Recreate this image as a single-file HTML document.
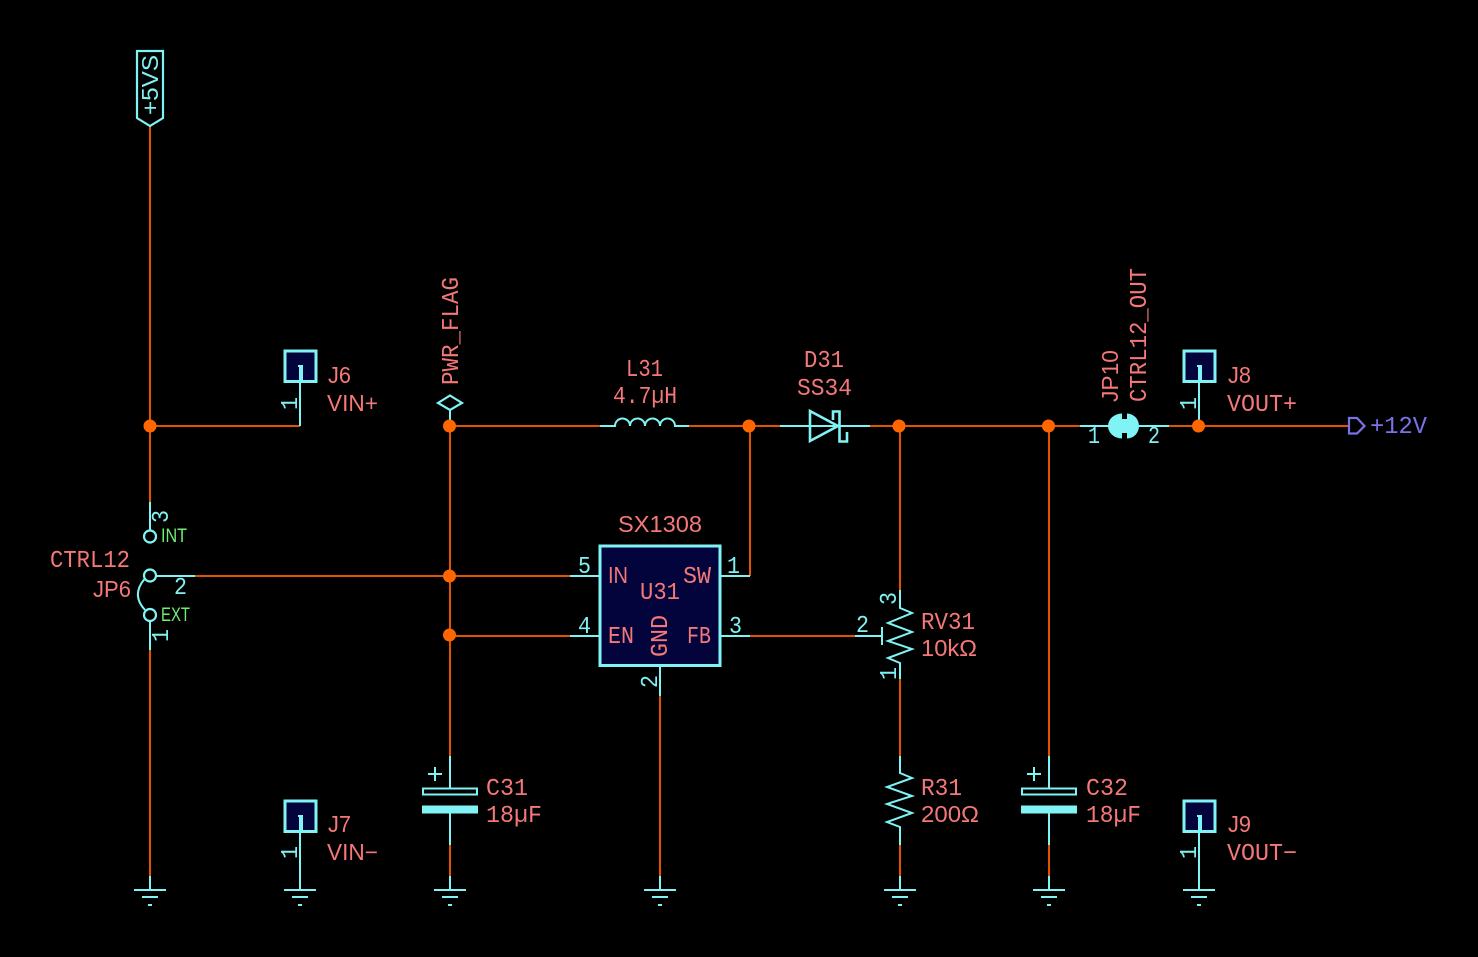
<!DOCTYPE html>
<html><head><meta charset="utf-8"><style>
html,body{margin:0;padding:0;background:#000;width:1478px;height:957px;overflow:hidden}
svg{display:block}
text{font-family:"Liberation Sans",sans-serif;font-size:23px}
text.m{font-family:"Liberation Mono",monospace;font-size:24px}
.r{fill:#f57878}.c{fill:#80f0f0}.g{fill:#70f070;font-size:19px}.b{fill:#7a72e8}
.w{stroke:#e25300;stroke-width:2;fill:none}
.p{stroke:#80f4f4;stroke-width:2;fill:none}
.t{stroke:#80f4f4;stroke-width:2.200;fill:none}
.d{stroke:#80f4f4;stroke-width:2.600;fill:none}
.j{fill:#ff6600}
.box{fill:#04043c;stroke:#80f4f4;stroke-width:3}
</style></head><body>
<svg width="1478" height="957" viewBox="0 0 1478 957" xmlns="http://www.w3.org/2000/svg">
<rect width="1478" height="957" fill="#000"/>

<!-- wires -->
<path class="w" d="M150 126V502M150 426H300M150 650V876M195 576H570M450 636H570M450 426V756M450 426H600M689 426H780M870 426H1080M1169 426H1350M750 426V576M750 636H855M660 696V876M900 426V590M900 679V756M900 845V876M1049 426V756M1049 845V876M450 845V876"/>

<!-- +5VS -->
<path class="t" d="M137 51H163V118L150 126L137 118Z"/>
<text class="c" transform="translate(158 115) rotate(-90)" textLength="60" lengthAdjust="spacingAndGlyphs">+5VS</text>

<!-- jumper JP6 -->
<path class="p" d="M150 502V530M156 576H195M150 621V650"/>
<circle class="t" cx="150" cy="536.500" r="6"/>
<circle class="t" cx="150" cy="575.500" r="6"/>
<circle class="t" cx="150" cy="615" r="6"/>
<path class="p" d="M144.500 579Q131 595 145 610"/>
<text class="c m" transform="translate(168 523) rotate(-90)" textLength="13" lengthAdjust="spacingAndGlyphs">3</text>
<text class="c m" transform="translate(168 642) rotate(-90)" textLength="13" lengthAdjust="spacingAndGlyphs">1</text>
<text class="c m" x="174" y="594" textLength="13" lengthAdjust="spacingAndGlyphs">2</text>
<text class="g" x="161" y="542" textLength="26" lengthAdjust="spacingAndGlyphs">INT</text>
<text class="g" x="161" y="621" textLength="29" lengthAdjust="spacingAndGlyphs">EXT</text>
<text class="r m" x="50" y="567" textLength="80" lengthAdjust="spacingAndGlyphs">CTRL12</text>
<text class="r" x="93" y="597" textLength="38" lengthAdjust="spacingAndGlyphs">JP6</text>

<!-- J6 -->
<rect class="box" x="285" y="351" width="31" height="30.500"/>
<path class="p" d="M300 426V366H298M300 366H302V381"/>
<text class="c m" transform="translate(297 410) rotate(-90)" textLength="13" lengthAdjust="spacingAndGlyphs">1</text>
<text class="r" x="328" y="383" textLength="23" lengthAdjust="spacingAndGlyphs">J6</text>
<text class="r" x="327" y="411" textLength="51" lengthAdjust="spacingAndGlyphs">VIN+</text>

<!-- J7 -->
<rect class="box" x="285" y="801" width="31" height="30.500"/>
<path class="p" d="M300 890V816H298M300 816H302V831"/>
<text class="c m" transform="translate(297 859) rotate(-90)" textLength="13" lengthAdjust="spacingAndGlyphs">1</text>
<text class="r" x="328" y="832" textLength="23" lengthAdjust="spacingAndGlyphs">J7</text>
<text class="r" x="327" y="860" textLength="51" lengthAdjust="spacingAndGlyphs">VIN−</text>

<!-- J8 -->
<rect class="box" x="1184" y="351" width="31" height="30.500"/>
<path class="p" d="M1199 426V366H1197M1199 366H1201V381"/>
<text class="c m" transform="translate(1196 410) rotate(-90)" textLength="13" lengthAdjust="spacingAndGlyphs">1</text>
<text class="r" x="1228" y="383" textLength="23" lengthAdjust="spacingAndGlyphs">J8</text>
<text class="r m" x="1227" y="411" textLength="70" lengthAdjust="spacingAndGlyphs">VOUT+</text>

<!-- J9 -->
<rect class="box" x="1184" y="801" width="31" height="30.500"/>
<path class="p" d="M1199 890V816H1197M1199 816H1201V831"/>
<text class="c m" transform="translate(1196 859) rotate(-90)" textLength="13" lengthAdjust="spacingAndGlyphs">1</text>
<text class="r" x="1228" y="832" textLength="23" lengthAdjust="spacingAndGlyphs">J9</text>
<text class="r m" x="1227" y="860" textLength="70" lengthAdjust="spacingAndGlyphs">VOUT−</text>

<!-- PWR_FLAG -->
<path class="t" d="M450 395.500L462 403L450 410L438 403Z"/>
<path class="p" d="M450 410V426"/>
<text class="r m" transform="translate(458 385) rotate(-90)" textLength="108" lengthAdjust="spacingAndGlyphs">PWR_FLAG</text>

<!-- L31 -->
<path class="p" d="M600 426H615A7.500 7.500 0 0 1 630 426A7.500 7.500 0 0 1 645 426A7.500 7.500 0 0 1 660 426A7.500 7.500 0 0 1 675 426H689"/>
<text class="r m" x="626" y="376" textLength="37" lengthAdjust="spacingAndGlyphs">L31</text>
<text class="r m" x="613" y="403" textLength="64" lengthAdjust="spacingAndGlyphs">4.7µH</text>

<!-- D31 -->
<path class="p" d="M780 426H870"/>
<path class="d" d="M810 411V441L838 426ZM833 420V411.500H839.500V441.500H847V432"/>
<text class="r m" x="804" y="367" textLength="40" lengthAdjust="spacingAndGlyphs">D31</text>
<text class="r m" x="797" y="395" textLength="55" lengthAdjust="spacingAndGlyphs">SS34</text>

<!-- JP10 -->
<path class="p" d="M1080 426H1110M1138 426H1169"/>
<path fill="#80f4f4" d="M1122 413.500A14 12.500 0 0 0 1122 438.500V433H1127V438.500A12 12.500 0 0 0 1127 413.500V419H1122Z"/>
<text class="c m" x="1088" y="443" textLength="12" lengthAdjust="spacingAndGlyphs">1</text>
<text class="c m" x="1148" y="443" textLength="12" lengthAdjust="spacingAndGlyphs">2</text>
<text class="r" transform="translate(1118 402) rotate(-90)" textLength="52" lengthAdjust="spacingAndGlyphs">JP10</text>
<text class="r m" transform="translate(1146 402) rotate(-90)" textLength="134" lengthAdjust="spacingAndGlyphs">CTRL12_OUT</text>

<!-- +12V -->
<path d="M1349 418H1357L1364.500 426L1357 433.500H1349Z" fill="none" stroke="#7a72e8" stroke-width="2.200"/>
<text class="b m" x="1370" y="433" textLength="57" lengthAdjust="spacingAndGlyphs">+12V</text>

<!-- U31 -->
<rect class="box" x="600" y="546" width="120" height="119.500"/>
<path class="p" d="M570 576H599M570 636H599M721 576H750M721 636H750M660 666V696"/>
<text class="r" x="618" y="532" textLength="84" lengthAdjust="spacingAndGlyphs">SX1308</text>
<text class="r" x="608" y="583" textLength="20" lengthAdjust="spacingAndGlyphs">IN</text>
<text class="r m" x="683" y="583" textLength="28" lengthAdjust="spacingAndGlyphs">SW</text>
<text class="r m" x="640" y="599" textLength="40" lengthAdjust="spacingAndGlyphs">U31</text>
<text class="r m" x="608" y="643" textLength="26" lengthAdjust="spacingAndGlyphs">EN</text>
<text class="r m" x="687" y="643" textLength="24" lengthAdjust="spacingAndGlyphs">FB</text>
<text class="r m" transform="translate(667 657) rotate(-90)" textLength="42" lengthAdjust="spacingAndGlyphs">GND</text>
<text class="c m" x="578" y="573" textLength="13" lengthAdjust="spacingAndGlyphs">5</text>
<text class="c m" x="578" y="633" textLength="13" lengthAdjust="spacingAndGlyphs">4</text>
<text class="c m" x="727" y="573" textLength="13" lengthAdjust="spacingAndGlyphs">1</text>
<text class="c m" x="729" y="633" textLength="13" lengthAdjust="spacingAndGlyphs">3</text>
<text class="c m" transform="translate(657 688) rotate(-90)" textLength="13" lengthAdjust="spacingAndGlyphs">2</text>

<!-- RV31 -->
<path class="p" d="M900 590V608L912 613L888 623L912 632L888 641L912 649L888 658L900 663V679M855 636H882M882 627V645"/>
<text class="r m" x="921" y="629" textLength="54" lengthAdjust="spacingAndGlyphs">RV31</text>
<text class="r" x="921" y="656" textLength="56" lengthAdjust="spacingAndGlyphs">10kΩ</text>
<text class="c m" x="856" y="632" textLength="13" lengthAdjust="spacingAndGlyphs">2</text>
<text class="c m" transform="translate(896 605) rotate(-90)" textLength="13" lengthAdjust="spacingAndGlyphs">3</text>
<text class="c m" transform="translate(896 680) rotate(-90)" textLength="13" lengthAdjust="spacingAndGlyphs">1</text>

<!-- R31 -->
<path class="p" d="M900 756V773L912 778L887 787L912 796L887 804L912 813L887 822L900 827V845"/>
<text class="r m" x="921" y="795" textLength="41" lengthAdjust="spacingAndGlyphs">R31</text>
<text class="r" x="921" y="822" textLength="58" lengthAdjust="spacingAndGlyphs">200Ω</text>

<!-- C31 -->
<path class="p" d="M450 756V788M450 813V845M428 774H442M435 767V781"/>
<rect class="p" x="423" y="788.500" width="54" height="6"/>
<rect x="422" y="805.500" width="56" height="8" fill="#80f4f4"/>
<text class="r m" x="486" y="795" textLength="42" lengthAdjust="spacingAndGlyphs">C31</text>
<text class="r m" x="486" y="822" textLength="56" lengthAdjust="spacingAndGlyphs">18µF</text>

<!-- C32 -->
<path class="p" d="M1049 756V788M1049 813V845M1027 774H1041M1034 767V781"/>
<rect class="p" x="1022" y="788.500" width="54" height="6"/>
<rect x="1021" y="805.500" width="56" height="8" fill="#80f4f4"/>
<text class="r m" x="1086" y="795" textLength="42" lengthAdjust="spacingAndGlyphs">C32</text>
<text class="r m" x="1086" y="822" textLength="55" lengthAdjust="spacingAndGlyphs">18µF</text>

<!-- grounds -->
<path class="p" d="M150 876V890M134 890H166M142 897H158M148 905H152"/>
<path class="p" d="M284 890H316M292 897H308M298 905H302"/>
<path class="p" d="M450 876V890M434 890H466M442 897H458M448 905H452"/>
<path class="p" d="M660 876V890M644 890H676M652 897H668M658 905H662"/>
<path class="p" d="M900 876V890M884 890H916M892 897H908M898 905H902"/>
<path class="p" d="M1049 876V890M1033 890H1065M1041 897H1057M1047 905H1051"/>
<path class="p" d="M1183 890H1215M1191 897H1207M1197 905H1201"/>

<!-- junctions -->
<circle class="j" cx="150" cy="426" r="6.500"/>
<circle class="j" cx="449.500" cy="426" r="6.500"/>
<circle class="j" cx="449.500" cy="576" r="6.500"/>
<circle class="j" cx="449.500" cy="635" r="6.500"/>
<circle class="j" cx="749" cy="426" r="6.500"/>
<circle class="j" cx="899" cy="426" r="6.500"/>
<circle class="j" cx="1048.500" cy="426" r="6.500"/>
<circle class="j" cx="1198.500" cy="426" r="6.500"/>
</svg>
</body></html>
